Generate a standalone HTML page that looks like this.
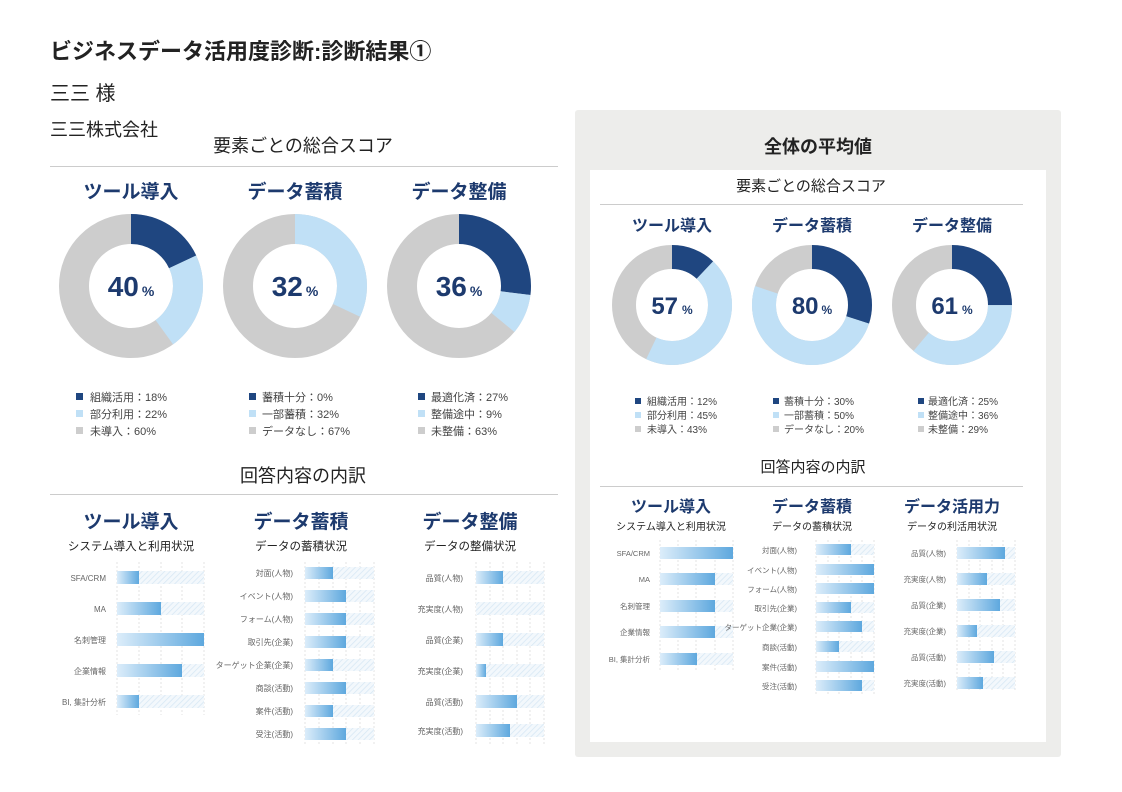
<!DOCTYPE html>
<html><head><meta charset="utf-8"><style>
html,body{margin:0;padding:0;background:#fff}
svg{display:block;font-family:"Liberation Sans","Noto Sans CJK JP",sans-serif}
.lb{font-size:8px;fill:#666;text-anchor:end}
.lr{font-size:7.5px;fill:#666;text-anchor:end}
.h{font-weight:bold;fill:#1d3a6e;text-anchor:middle}
.lg{font-size:11px;fill:#444}
.lg2{font-size:10px;fill:#444}
.g line{stroke:#e3e3e3;stroke-dasharray:2 2;stroke-width:1}
</style></head><body>
<svg width="1122" height="792" viewBox="0 0 1122 792" xmlns="http://www.w3.org/2000/svg">
<defs>
<linearGradient id="bg" x1="0" x2="1"><stop offset="0" stop-color="#dcedfa"/><stop offset="1" stop-color="#5ea8de"/></linearGradient>
<pattern id="ht" width="4" height="4" patternUnits="userSpaceOnUse" patternTransform="rotate(45)"><rect width="4" height="4" fill="#f3f8fc"/><line x1="0" y1="0" x2="0" y2="4" stroke="#d6e7f4" stroke-width="1.5"/></pattern>
</defs>
<rect width="1122" height="792" fill="#fff"/>
<text x="50" y="59" font-size="22" font-weight="bold" fill="#222">ビジネスデータ活用度診断:診断結果①</text>
<text x="50" y="100" font-size="20" fill="#222">三三 様</text>
<text x="50" y="136" font-size="18" fill="#222">三三株式会社</text>
<text x="303" y="152" font-size="18" fill="#222" text-anchor="middle">要素ごとの総合スコア</text>
<line x1="50" y1="166.5" x2="558" y2="166.5" stroke="#ccc"/>
<text x="131" y="198" font-size="19" class="h">ツール導入</text>
<text x="295" y="198" font-size="19" class="h">データ蓄積</text>
<text x="459" y="198" font-size="19" class="h">データ整備</text>
<g fill="none" stroke-width="30">
<circle cx="131" cy="286" r="57" stroke="#cdcdcd"/>
<circle cx="131" cy="286" r="57" stroke="#1f4680" stroke-dasharray="64.5 400" transform="rotate(-90 131 286)"/>
<circle cx="131" cy="286" r="57" stroke="#c0e0f6" stroke-dasharray="78.8 400" stroke-dashoffset="-64.5" transform="rotate(-90 131 286)"/>
<circle cx="295" cy="286" r="57" stroke="#cdcdcd"/>
<circle cx="295" cy="286" r="57" stroke="#c0e0f6" stroke-dasharray="114.6 400" transform="rotate(-90 295 286)"/>
<circle cx="459" cy="286" r="57" stroke="#cdcdcd"/>
<circle cx="459" cy="286" r="57" stroke="#1f4680" stroke-dasharray="96.7 400" transform="rotate(-90 459 286)"/>
<circle cx="459" cy="286" r="57" stroke="#c0e0f6" stroke-dasharray="32.2 400" stroke-dashoffset="-96.7" transform="rotate(-90 459 286)"/>
</g>
<text x="131" y="296" class="h" font-size="28">40<tspan font-size="14" dx="3">%</tspan></text>
<text x="295" y="296" class="h" font-size="28">32<tspan font-size="14" dx="3">%</tspan></text>
<text x="459" y="296" class="h" font-size="28">36<tspan font-size="14" dx="3">%</tspan></text>
<g>
<rect x="76" y="393" width="7" height="7" fill="#1f4680"/><rect x="76" y="410" width="7" height="7" fill="#c0e0f6"/><rect x="76" y="427" width="7" height="7" fill="#cdcdcd"/>
<text x="90" y="401" class="lg">組織活用：18%</text><text x="90" y="418" class="lg">部分利用：22%</text><text x="90" y="435" class="lg">未導入：60%</text>
<rect x="249" y="393" width="7" height="7" fill="#1f4680"/><rect x="249" y="410" width="7" height="7" fill="#c0e0f6"/><rect x="249" y="427" width="7" height="7" fill="#cdcdcd"/>
<text x="262" y="401" class="lg">蓄積十分：0%</text><text x="262" y="418" class="lg">一部蓄積：32%</text><text x="262" y="435" class="lg">データなし：67%</text>
<rect x="418" y="393" width="7" height="7" fill="#1f4680"/><rect x="418" y="410" width="7" height="7" fill="#c0e0f6"/><rect x="418" y="427" width="7" height="7" fill="#cdcdcd"/>
<text x="431" y="401" class="lg">最適化済：27%</text><text x="431" y="418" class="lg">整備途中：9%</text><text x="431" y="435" class="lg">未整備：63%</text>
</g>
<text x="303" y="482" font-size="18" fill="#222" text-anchor="middle">回答内容の内訳</text>
<line x1="50" y1="494.5" x2="558" y2="494.5" stroke="#ccc"/>
<text x="131" y="528" font-size="19" class="h">ツール導入</text>
<text x="301" y="528" font-size="19" class="h">データ蓄積</text>
<text x="470" y="528" font-size="19" class="h">データ整備</text>
<text x="131" y="550" font-size="11.5" fill="#222" text-anchor="middle">システム導入と利用状況</text>
<text x="301" y="550" font-size="11.5" fill="#222" text-anchor="middle">データの蓄積状況</text>
<text x="470" y="550" font-size="11.5" fill="#222" text-anchor="middle">データの整備状況</text>
<g class="g"><line x1="117" y1="562" x2="117" y2="715"/><line x1="139" y1="562" x2="139" y2="715"/><line x1="161" y1="562" x2="161" y2="715"/><line x1="182" y1="562" x2="182" y2="715"/><line x1="204" y1="562" x2="204" y2="715"/></g>
<g>
<rect x="117" y="571" width="87" height="13" fill="url(#ht)"/><rect x="117" y="571" width="22" height="13" fill="url(#bg)"/>
<rect x="117" y="602" width="87" height="13" fill="url(#ht)"/><rect x="117" y="602" width="44" height="13" fill="url(#bg)"/>
<rect x="117" y="633" width="87" height="13" fill="url(#ht)"/><rect x="117" y="633" width="87" height="13" fill="url(#bg)"/>
<rect x="117" y="664" width="87" height="13" fill="url(#ht)"/><rect x="117" y="664" width="65" height="13" fill="url(#bg)"/>
<rect x="117" y="695" width="87" height="13" fill="url(#ht)"/><rect x="117" y="695" width="22" height="13" fill="url(#bg)"/>
</g>
<text x="106" y="581" class="lb">SFA/CRM</text><text x="106" y="612" class="lb">MA</text><text x="106" y="643" class="lb">名刺管理</text><text x="106" y="674" class="lb">企業情報</text><text x="106" y="705" class="lb">BI, 集計分析</text>
<g class="g"><line x1="305" y1="562" x2="305" y2="745"/><line x1="319" y1="562" x2="319" y2="745"/><line x1="333" y1="562" x2="333" y2="745"/><line x1="346" y1="562" x2="346" y2="745"/><line x1="360" y1="562" x2="360" y2="745"/><line x1="374" y1="562" x2="374" y2="745"/></g>
<g>
<rect x="305" y="567" width="69" height="12" fill="url(#ht)"/><rect x="305" y="567" width="28" height="12" fill="url(#bg)"/>
<rect x="305" y="590" width="69" height="12" fill="url(#ht)"/><rect x="305" y="590" width="41" height="12" fill="url(#bg)"/>
<rect x="305" y="613" width="69" height="12" fill="url(#ht)"/><rect x="305" y="613" width="41" height="12" fill="url(#bg)"/>
<rect x="305" y="636" width="69" height="12" fill="url(#ht)"/><rect x="305" y="636" width="41" height="12" fill="url(#bg)"/>
<rect x="305" y="659" width="69" height="12" fill="url(#ht)"/><rect x="305" y="659" width="28" height="12" fill="url(#bg)"/>
<rect x="305" y="682" width="69" height="12" fill="url(#ht)"/><rect x="305" y="682" width="41" height="12" fill="url(#bg)"/>
<rect x="305" y="705" width="69" height="12" fill="url(#ht)"/><rect x="305" y="705" width="28" height="12" fill="url(#bg)"/>
<rect x="305" y="728" width="69" height="12" fill="url(#ht)"/><rect x="305" y="728" width="41" height="12" fill="url(#bg)"/>
</g>
<text x="293" y="576" class="lb">対面(人物)</text><text x="293" y="599" class="lb">イベント(人物)</text><text x="293" y="622" class="lb">フォーム(人物)</text><text x="293" y="645" class="lb">取引先(企業)</text><text x="293" y="668" class="lb">ターゲット企業(企業)</text><text x="293" y="691" class="lb">商談(活動)</text><text x="293" y="714" class="lb">案件(活動)</text><text x="293" y="737" class="lb">受注(活動)</text>
<g class="g"><line x1="476" y1="562" x2="476" y2="745"/><line x1="490" y1="562" x2="490" y2="745"/><line x1="503" y1="562" x2="503" y2="745"/><line x1="517" y1="562" x2="517" y2="745"/><line x1="530" y1="562" x2="530" y2="745"/><line x1="544" y1="562" x2="544" y2="745"/></g>
<g>
<rect x="476" y="571" width="68" height="13" fill="url(#ht)"/><rect x="476" y="571" width="27" height="13" fill="url(#bg)"/>
<rect x="476" y="602" width="68" height="13" fill="url(#ht)"/>
<rect x="476" y="633" width="68" height="13" fill="url(#ht)"/><rect x="476" y="633" width="27" height="13" fill="url(#bg)"/>
<rect x="476" y="664" width="68" height="13" fill="url(#ht)"/><rect x="476" y="664" width="10" height="13" fill="url(#bg)"/>
<rect x="476" y="695" width="68" height="13" fill="url(#ht)"/><rect x="476" y="695" width="41" height="13" fill="url(#bg)"/>
<rect x="476" y="724" width="68" height="13" fill="url(#ht)"/><rect x="476" y="724" width="34" height="13" fill="url(#bg)"/>
</g>
<text x="463" y="581" class="lb">品質(人物)</text><text x="463" y="612" class="lb">充実度(人物)</text><text x="463" y="643" class="lb">品質(企業)</text><text x="463" y="674" class="lb">充実度(企業)</text><text x="463" y="705" class="lb">品質(活動)</text><text x="463" y="734" class="lb">充実度(活動)</text>

<rect x="575" y="110" width="486" height="647" rx="3" fill="#ededeb"/>
<rect x="590" y="170" width="456" height="572" fill="#fff"/>
<text x="818" y="153" font-size="18" font-weight="bold" fill="#222" text-anchor="middle">全体の平均値</text>
<text x="811" y="191" font-size="15" fill="#222" text-anchor="middle">要素ごとの総合スコア</text>
<line x1="600" y1="204.5" x2="1023" y2="204.5" stroke="#ccc"/>
<text x="672" y="231" font-size="16" class="h">ツール導入</text>
<text x="812" y="231" font-size="16" class="h">データ蓄積</text>
<text x="952" y="231" font-size="16" class="h">データ整備</text>
<g fill="none" stroke-width="24">
<circle cx="672" cy="305" r="48" stroke="#cdcdcd"/>
<circle cx="672" cy="305" r="48" stroke="#1f4680" stroke-dasharray="36.2 400" transform="rotate(-90 672 305)"/>
<circle cx="672" cy="305" r="48" stroke="#c0e0f6" stroke-dasharray="135.7 400" stroke-dashoffset="-36.2" transform="rotate(-90 672 305)"/>
<circle cx="812" cy="305" r="48" stroke="#cdcdcd"/>
<circle cx="812" cy="305" r="48" stroke="#1f4680" stroke-dasharray="90.5 400" transform="rotate(-90 812 305)"/>
<circle cx="812" cy="305" r="48" stroke="#c0e0f6" stroke-dasharray="150.8 400" stroke-dashoffset="-90.5" transform="rotate(-90 812 305)"/>
<circle cx="952" cy="305" r="48" stroke="#cdcdcd"/>
<circle cx="952" cy="305" r="48" stroke="#1f4680" stroke-dasharray="75.4 400" transform="rotate(-90 952 305)"/>
<circle cx="952" cy="305" r="48" stroke="#c0e0f6" stroke-dasharray="108.6 400" stroke-dashoffset="-75.4" transform="rotate(-90 952 305)"/>
</g>
<text x="672" y="314" class="h" font-size="24">57<tspan font-size="12" dx="4">%</tspan></text>
<text x="812" y="314" class="h" font-size="24">80<tspan font-size="12" dx="3">%</tspan></text>
<text x="952" y="314" class="h" font-size="24">61<tspan font-size="12" dx="4">%</tspan></text>
<g>
<rect x="635" y="398" width="6" height="6" fill="#1f4680"/><rect x="635" y="412" width="6" height="6" fill="#c0e0f6"/><rect x="635" y="426" width="6" height="6" fill="#cdcdcd"/>
<text x="647" y="405" class="lg2">組織活用：12%</text><text x="647" y="419" class="lg2">部分利用：45%</text><text x="647" y="433" class="lg2">未導入：43%</text>
<rect x="773" y="398" width="6" height="6" fill="#1f4680"/><rect x="773" y="412" width="6" height="6" fill="#c0e0f6"/><rect x="773" y="426" width="6" height="6" fill="#cdcdcd"/>
<text x="784" y="405" class="lg2">蓄積十分：30%</text><text x="784" y="419" class="lg2">一部蓄積：50%</text><text x="784" y="433" class="lg2">データなし：20%</text>
<rect x="918" y="398" width="6" height="6" fill="#1f4680"/><rect x="918" y="412" width="6" height="6" fill="#c0e0f6"/><rect x="918" y="426" width="6" height="6" fill="#cdcdcd"/>
<text x="928" y="405" class="lg2">最適化済：25%</text><text x="928" y="419" class="lg2">整備途中：36%</text><text x="928" y="433" class="lg2">未整備：29%</text>
</g>
<text x="813" y="472" font-size="15" fill="#222" text-anchor="middle">回答内容の内訳</text>
<line x1="600" y1="486.5" x2="1023" y2="486.5" stroke="#ccc"/>
<text x="671" y="512" font-size="16" class="h">ツール導入</text>
<text x="812" y="512" font-size="16" class="h">データ蓄積</text>
<text x="952" y="512" font-size="16" class="h">データ活用力</text>
<text x="671" y="530" font-size="10" fill="#222" text-anchor="middle">システム導入と利用状況</text>
<text x="812" y="530" font-size="10" fill="#222" text-anchor="middle">データの蓄積状況</text>
<text x="952" y="530" font-size="10" fill="#222" text-anchor="middle">データの利活用状況</text>
<g class="g"><line x1="660" y1="540" x2="660" y2="670"/><line x1="678" y1="540" x2="678" y2="670"/><line x1="696" y1="540" x2="696" y2="670"/><line x1="715" y1="540" x2="715" y2="670"/><line x1="733" y1="540" x2="733" y2="670"/></g>
<g>
<rect x="660" y="547" width="73" height="12" fill="url(#ht)"/><rect x="660" y="547" width="73" height="12" fill="url(#bg)"/>
<rect x="660" y="573" width="73" height="12" fill="url(#ht)"/><rect x="660" y="573" width="55" height="12" fill="url(#bg)"/>
<rect x="660" y="600" width="73" height="12" fill="url(#ht)"/><rect x="660" y="600" width="55" height="12" fill="url(#bg)"/>
<rect x="660" y="626" width="73" height="12" fill="url(#ht)"/><rect x="660" y="626" width="55" height="12" fill="url(#bg)"/>
<rect x="660" y="653" width="73" height="12" fill="url(#ht)"/><rect x="660" y="653" width="37" height="12" fill="url(#bg)"/>
</g>
<text x="650" y="556" class="lr">SFA/CRM</text><text x="650" y="582" class="lr">MA</text><text x="650" y="609" class="lr">名刺管理</text><text x="650" y="635" class="lr">企業情報</text><text x="650" y="662" class="lr">BI, 集計分析</text>
<g class="g"><line x1="816" y1="540" x2="816" y2="695"/><line x1="828" y1="540" x2="828" y2="695"/><line x1="839" y1="540" x2="839" y2="695"/><line x1="851" y1="540" x2="851" y2="695"/><line x1="862" y1="540" x2="862" y2="695"/><line x1="874" y1="540" x2="874" y2="695"/></g>
<g>
<rect x="816" y="544" width="58" height="11" fill="url(#ht)"/><rect x="816" y="544" width="35" height="11" fill="url(#bg)"/>
<rect x="816" y="564" width="58" height="11" fill="url(#ht)"/><rect x="816" y="564" width="58" height="11" fill="url(#bg)"/>
<rect x="816" y="583" width="58" height="11" fill="url(#ht)"/><rect x="816" y="583" width="58" height="11" fill="url(#bg)"/>
<rect x="816" y="602" width="58" height="11" fill="url(#ht)"/><rect x="816" y="602" width="35" height="11" fill="url(#bg)"/>
<rect x="816" y="621" width="58" height="11" fill="url(#ht)"/><rect x="816" y="621" width="46" height="11" fill="url(#bg)"/>
<rect x="816" y="641" width="58" height="11" fill="url(#ht)"/><rect x="816" y="641" width="23" height="11" fill="url(#bg)"/>
<rect x="816" y="661" width="58" height="11" fill="url(#ht)"/><rect x="816" y="661" width="58" height="11" fill="url(#bg)"/>
<rect x="816" y="680" width="58" height="11" fill="url(#ht)"/><rect x="816" y="680" width="46" height="11" fill="url(#bg)"/>
</g>
<text x="797" y="553" class="lr">対面(人物)</text><text x="797" y="573" class="lr">イベント(人物)</text><text x="797" y="592" class="lr">フォーム(人物)</text><text x="797" y="611" class="lr">取引先(企業)</text><text x="797" y="630" class="lr">ターゲット企業(企業)</text><text x="797" y="650" class="lr">商談(活動)</text><text x="797" y="670" class="lr">案件(活動)</text><text x="797" y="689" class="lr">受注(活動)</text>
<g class="g"><line x1="957" y1="540" x2="957" y2="692"/><line x1="969" y1="540" x2="969" y2="692"/><line x1="980" y1="540" x2="980" y2="692"/><line x1="992" y1="540" x2="992" y2="692"/><line x1="1003" y1="540" x2="1003" y2="692"/><line x1="1015" y1="540" x2="1015" y2="692"/></g>
<g>
<rect x="957" y="547" width="58" height="12" fill="url(#ht)"/><rect x="957" y="547" width="48" height="12" fill="url(#bg)"/>
<rect x="957" y="573" width="58" height="12" fill="url(#ht)"/><rect x="957" y="573" width="30" height="12" fill="url(#bg)"/>
<rect x="957" y="599" width="58" height="12" fill="url(#ht)"/><rect x="957" y="599" width="43" height="12" fill="url(#bg)"/>
<rect x="957" y="625" width="58" height="12" fill="url(#ht)"/><rect x="957" y="625" width="20" height="12" fill="url(#bg)"/>
<rect x="957" y="651" width="58" height="12" fill="url(#ht)"/><rect x="957" y="651" width="37" height="12" fill="url(#bg)"/>
<rect x="957" y="677" width="58" height="12" fill="url(#ht)"/><rect x="957" y="677" width="26" height="12" fill="url(#bg)"/>
</g>
<text x="946" y="556" class="lr">品質(人物)</text><text x="946" y="582" class="lr">充実度(人物)</text><text x="946" y="608" class="lr">品質(企業)</text><text x="946" y="634" class="lr">充実度(企業)</text><text x="946" y="660" class="lr">品質(活動)</text><text x="946" y="686" class="lr">充実度(活動)</text>
</svg>
</body></html>
